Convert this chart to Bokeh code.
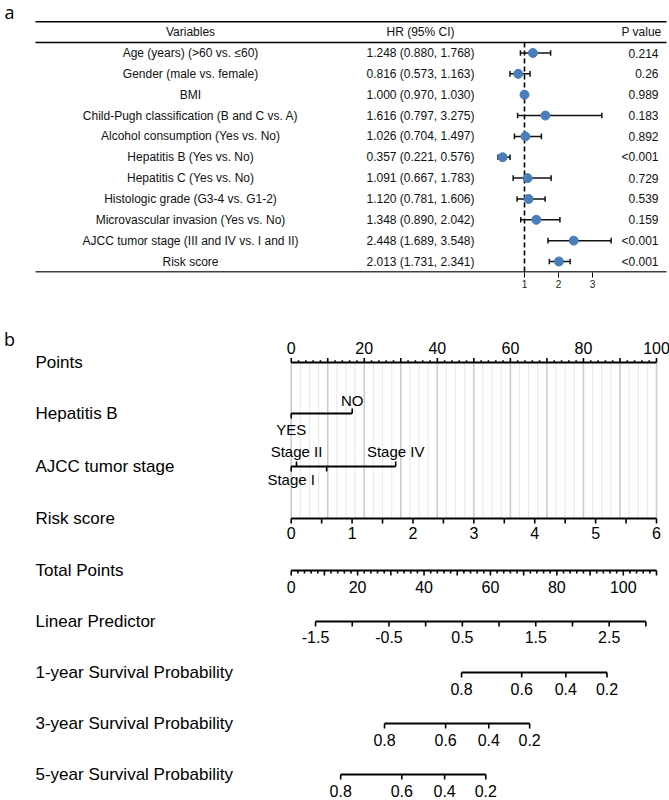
import numpy as np
from bokeh.plotting import figure
from bokeh.models import Range1d, FixedTicker
from bokeh.layouts import column
from bokeh.embed import file_html
from bokeh.resources import INLINE
from bokeh.core.properties import value

# ---------------- data: panel a (forest plot) ----------------
variables = ["Age (years) (>60 vs. \u226460)", "Gender (male vs. female)", "BMI",
             "Child-Pugh classification (B and C vs. A)", "Alcohol consumption (Yes vs. No)",
             "Hepatitis B (Yes vs. No)", "Hepatitis C (Yes vs. No)",
             "Histologic grade (G3-4 vs. G1-2)", "Microvascular invasion (Yes vs. No)",
             "AJCC tumor stage (III and IV vs. I and II)", "Risk score"]
hr = [1.248, 0.816, 1.000, 1.616, 1.026, 0.357, 1.091, 1.120, 1.348, 2.448, 2.013]
hr_low = [0.880, 0.573, 0.970, 0.797, 0.704, 0.221, 0.667, 0.781, 0.890, 1.689, 1.731]
hr_high = [1.768, 1.163, 1.030, 3.275, 1.497, 0.576, 1.783, 1.606, 2.042, 3.548, 2.341]
p_values = ["0.214", "0.26", "0.989", "0.183", "0.892", "<0.001", "0.729",
            "0.539", "0.159", "<0.001", "<0.001"]
hr_ticks = [1, 2, 3]
headers = ["Variables", "HR (95% CI)", "P value"]

# ---------------- data: panel b (nomogram) ----------------
points_max = 100
points_labels = [0, 20, 40, 60, 80, 100]
hepb_levels = ["YES", "NO"]
hepb_points = [0.0, 16.7]
ajcc_levels = ["Stage I", "Stage II", "Stage III", "Stage IV"]
ajcc_points = [0.0, 1.45, 9.7, 28.6]
ajcc_shown = [True, True, False, True]
risk_labels = [0, 1, 2, 3, 4, 5, 6]
risk_max = 6
total_labels = [0, 20, 40, 60, 80, 100]
total_max = 110
lp_labels = [-1.5, -0.5, 0.5, 1.5, 2.5]
lp_limits = [-1.5, 3.0]
lp_total_points = [7.33, 106.8]   # total points at the two lp limits
surv_probs = [0.8, 0.6, 0.4, 0.2]
surv1_total = [51.3, 69.4, 82.7, 95.1]
surv3_total = [28.1, 46.5, 59.5, 71.8]
surv5_total = [14.9, 33.3, 46.2, 58.6]
row_names = ["Points", "Hepatitis B", "AJCC tumor stage", "Risk score", "Total Points",
             "Linear Predictor", "1-year Survival Probability",
             "3-year Survival Probability", "5-year Survival Probability"]

FONT = "Liberation Sans"
W = 669
FX0 = 0  # page x of figure left edge

# ================= panel a =================
A_FRAME = 272
A_BOTTOM = 50
HA = A_FRAME + A_BOTTOM
ONE_PX = 524.0
HR_PPU = 34.0
pa = figure(width=W, height=HA, output_backend="svg", toolbar_location=None,
            x_range=Range1d(1 - (ONE_PX - FX0) / HR_PPU, 1 + (FX0 + W - ONE_PX) / HR_PPU),
            y_range=Range1d(A_FRAME, 0),
            y_axis_location=None, min_border_left=0, min_border_right=0,
            min_border_top=0, min_border_bottom=A_BOTTOM)
pa.extra_x_ranges = {"px": Range1d(FX0, FX0 + W)}
pa.grid.visible = False
pa.outline_line_color = None
ax = pa.xaxis[0]
ax.ticker = FixedTicker(ticks=hr_ticks)
ax.axis_line_color = None
ax.major_tick_out = 5
ax.major_tick_in = 0
ax.major_tick_line_width = 1
ax.major_tick_line_color = "black"
ax.minor_tick_line_color = None
ax.major_label_text_font = FONT
ax.major_label_text_font_size = "10px"
ax.major_label_text_color = "#222222"
ax.major_label_standoff = 2

row0, dy = 52.5, 20.85
ys = [row0 + i * dy for i in range(len(variables))]
y_head = row0 - dy
y_top = row0 - 1.5 * dy
y_hline = row0 - 0.5 * dy
y_bot = ys[-1] + 0.5 * dy

for yy in (y_top, y_hline, y_bot):
    pa.segment(x0=[35], y0=[yy], x1=[666], y1=[yy], x_range_name="px",
               line_color="black", line_width=1.5)

pa.segment(x0=[1], y0=[y_hline], x1=[1], y1=[y_bot], line_color="black",
           line_width=1.6, line_dash="5 3")

txt = dict(text_font=value(FONT), text_font_size="12px", text_baseline="middle",
           text_color="#111111", x_range_name="px")
col_x = [190, 420, 661]
aligns = ["center", "center", "right"]
for h, cx, al in zip(headers, col_x, aligns):
    pa.text(x=[cx], y=[y_head], text=[h], text_align=al, **txt)
hr_text = [f"{a:.3f} ({b:.3f}, {c:.3f})" for a, b, c in zip(hr, hr_low, hr_high)]
pa.text(x=[col_x[0]] * len(ys), y=ys, text=variables, text_align="center", **txt)
pa.text(x=[col_x[1]] * len(ys), y=ys, text=hr_text, text_align="center", **txt)
pa.text(x=[658] * len(ys), y=ys, text=p_values, text_align="right", **txt)

pa.segment(x0=hr_low, y0=ys, x1=hr_high, y1=ys, line_color="#111111", line_width=1.5)
pa.segment(x0=hr_low, y0=[y - 2.8 for y in ys], x1=hr_low, y1=[y + 2.8 for y in ys],
           line_color="#111111", line_width=1.5)
pa.segment(x0=hr_high, y0=[y - 2.8 for y in ys], x1=hr_high, y1=[y + 2.8 for y in ys],
           line_color="#111111", line_width=1.5)
pa.scatter(x=hr, y=ys, size=9, fill_color="#4a7ebb", line_color="#4a7ebb")
pa.text(x=[9], y=[11], text=["a"], text_font=value("Open Sans"), text_font_size="18px",
        text_align="center", text_baseline="middle", x_range_name="px")

# ================= panel b =================
HB = 800 - HA
B_TOP = HA
PX0 = 290.7     # page x of 0 points
PPP = 3.653     # pixels per point
pb = figure(width=W, height=HB, output_backend="svg", toolbar_location=None,
            x_range=Range1d((FX0 - PX0) / PPP, (FX0 + W - PX0) / PPP),
            y_range=Range1d(B_TOP + HB, B_TOP),
            x_axis_location=None, y_axis_location=None, min_border=0)
pb.extra_x_ranges = {"px": Range1d(FX0, FX0 + W)}
pb.grid.visible = False
pb.outline_line_color = None

row_y = [362, 413, 466, 518, 570, 621, 672, 723, 774]
LW = 2
TW = 1.6

def hline(x0, x1, y):
    pb.segment(x0=[x0], y0=[y], x1=[x1], y1=[y], line_color="black", line_width=LW)

def ticks(xs, y, length):
    xs = list(xs)
    pb.segment(x0=xs, y0=[y] * len(xs), x1=xs, y1=[y + length] * len(xs),
               line_color="black", line_width=TW)

def labels(xs, y, texts, size="16px"):
    xs = list(xs)
    pb.text(x=xs, y=[y] * len(xs), text=[str(t) for t in texts], text_font=value(FONT),
            text_font_size=size, text_align="center", text_baseline="middle",
            text_color="black")

# grid
y_g0, y_g1 = row_y[0], row_y[3]
light = [v for v in np.arange(0, points_max + 0.01, 2.5) if v % 10 != 0]
dark = list(np.arange(0, points_max + 0.01, 10))
pb.segment(x0=light, y0=[y_g0] * len(light), x1=light, y1=[y_g1] * len(light),
           line_color="#ebebeb", line_width=1.2)
pb.segment(x0=dark, y0=[y_g0] * len(dark), x1=dark, y1=[y_g1] * len(dark),
           line_color="#cccccc", line_width=1.6)

# left row names
pb.text(x=[35] * len(row_names), y=row_y, text=row_names, text_font=value(FONT),
        text_font_size="17px", text_align="left", text_baseline="middle",
        text_color="black", x_range_name="px")
pb.text(x=[9], y=[338], text=["b"], text_font=value("Open Sans"), text_font_size="18px",
        text_align="center", text_baseline="middle", x_range_name="px")

# Points
y = row_y[0]
hline(0, points_max, y)
ticks([v for v in range(0, points_max + 1, 2) if v % 10], y, -2.3)
ticks(range(0, points_max + 1, 10), y, -4.5)
labels(points_labels, y - 15, points_labels)

# Hepatitis B
y = row_y[1]
hline(min(hepb_points), max(hepb_points), y)
ticks([hepb_points[0]], y, 5)
ticks([hepb_points[1]], y, -5)
labels([hepb_points[0]], y + 16, [hepb_levels[0]], "15px")
labels([hepb_points[1]], y - 13, [hepb_levels[1]], "15px")

# AJCC
y = row_y[2]
hline(min(ajcc_points), max(ajcc_points), y)
for i, (pt, lev, sh) in enumerate(zip(ajcc_points, ajcc_levels, ajcc_shown)):
    d = 5 if i % 2 == 0 else -5
    ticks([pt], y, d)
    if sh:
        labels([pt], y + (13 if d > 0 else -15), [lev], "15px")

# Risk score
y = row_y[3]
sc = points_max / risk_max
hline(0, risk_max * sc, y)
ticks([v * sc for v in np.arange(0, risk_max + 0.01, 0.5)], y, 5)
labels([v * sc for v in risk_labels], y + 14, risk_labels)

# Total points
y = row_y[4]
tsc = points_max / total_max
hline(0, total_max * tsc, y)
ticks([v * tsc for v in range(0, total_max + 1, 2) if v % 10], y, 3)
ticks([v * tsc for v in range(0, total_max + 1, 10)], y, 5)
labels([v * tsc for v in total_labels], y + 16, total_labels)

# Linear predictor
def lp_to_x(lp):
    f = (lp - lp_limits[0]) / (lp_limits[1] - lp_limits[0])
    return (lp_total_points[0] + f * (lp_total_points[1] - lp_total_points[0])) * tsc

y = row_y[5]
hline(lp_to_x(lp_limits[0]), lp_to_x(lp_limits[1]), y)
ticks([lp_to_x(v) for v in np.arange(lp_limits[0], lp_limits[1] + 0.01, 0.5)], y, 5)
labels([lp_to_x(v) for v in lp_labels], y + 15, [f"{v:g}" for v in lp_labels])

# Survival probabilities
for y, tot in zip(row_y[6:], [surv1_total, surv3_total, surv5_total]):
    xs = [t * tsc for t in tot]
    hline(min(xs), max(xs), y)
    ticks(xs, y, 5)
    labels(xs, y + 16, [f"{v:.1f}" for v in surv_probs])

layout = column(pa, pb)
open("out.html", "w").write(file_html(layout, INLINE))
